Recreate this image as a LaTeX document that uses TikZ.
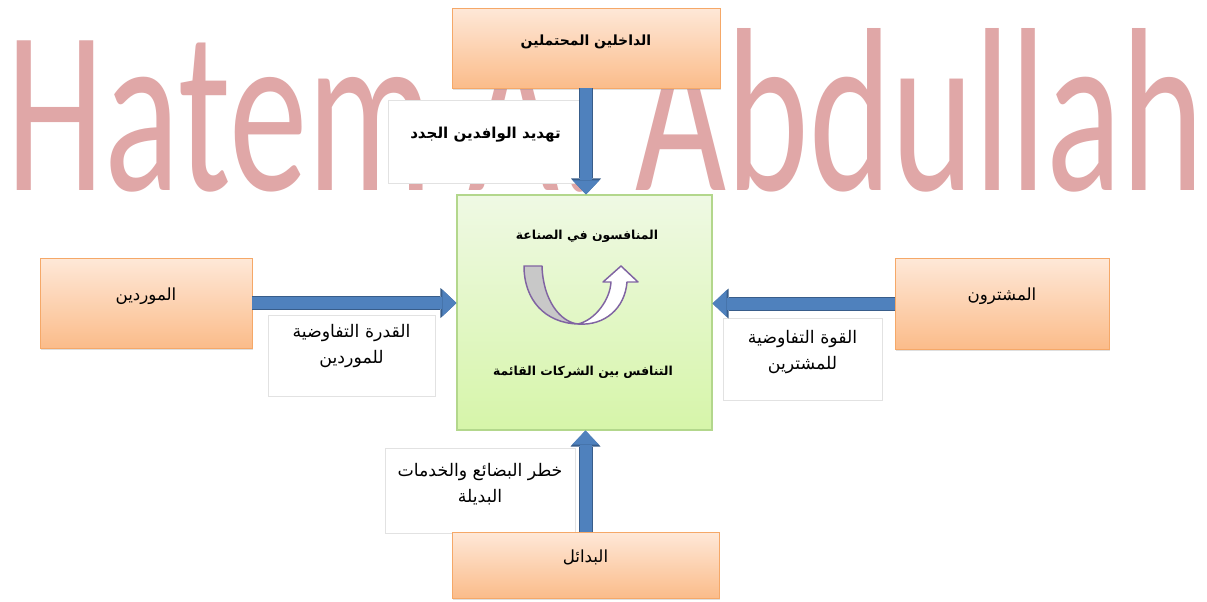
\documentclass[tikz,border=0pt]{standalone}
\usepackage{fontspec}
\setmainfont{Liberation Sans}
\newfontfamily\arabicfont[Script=Arabic]{DejaVu Sans}
\newfontfamily\markfont{Carlito}
\TeXXeTstate=1
\usetikzlibrary{arrows.meta,shadows}

\definecolor{markpink}{HTML}{E0A7A7}
\definecolor{orangetop}{HTML}{FEE8D8}
\definecolor{orangebot}{HTML}{FBBC8A}
\definecolor{orangeline}{HTML}{F5A868}
\definecolor{greentop}{HTML}{EFF9E4}
\definecolor{greenbot}{HTML}{D6F5A9}
\definecolor{greenline}{HTML}{B3D78C}
\definecolor{noteline}{HTML}{E2E2E2}
\definecolor{arrowblue}{HTML}{4F81BD}
\definecolor{arrowdark}{HTML}{385D8A}
\definecolor{turngray}{HTML}{C8C8C8}
\definecolor{turnline}{HTML}{8064A2}

\tikzset{
  watermark/.style={font=\markfont\fontsize{100}{100}\selectfont, text=markpink, inner sep=0pt, anchor=base,
    text depth=0pt, xscale=1.179, yscale=1.75},
  force/.style={rectangle, draw=orangeline, line width=0.6pt, top color=orangetop, bottom color=orangebot,
    drop shadow={opacity=0.25, shadow xshift=1pt, shadow yshift=-1.5pt},
    font=\arabicfont\fontsize{12.5}{14}\selectfont, text height=8pt, text depth=12pt},
  note/.style={rectangle, draw=noteline, line width=0.5pt, fill=white, align=center,
    font=\arabicfont\fontsize{13}{19.5}\selectfont, text height=27.5pt, text depth=15pt},
  rival/.style={rectangle, draw=greenline, line width=0.8pt, top color=greentop, bottom color=greenbot},
  rivtext/.style={font=\arabicfont\bfseries\fontsize{9.3}{12}\selectfont},
  uturn/.style={draw=turnline, line width=1.1pt, line join=round},
  push/.style={line width=9pt, draw=arrowblue, -{Triangle[length=10.5pt,width=20pt,line width=0pt]},
    preaction={draw=arrowdark, line width=10.5pt, -{Triangle[length=12pt,width=22.5pt,line width=0pt]}}}
}

\begin{document}
\begin{tikzpicture}[x=0.75pt, y=-0.75pt]
  % page
  \useasboundingbox[fill=white] (0,0) rectangle (1207,601);

  % watermark
  \node[watermark] (wm) at (605.5,190) {Hatem A. Abdullah};

  % notes beside the arrows
  \node[note, minimum width=146.25pt, minimum height=62.25pt, text height=8pt, text depth=12pt,
    font=\arabicfont\bfseries\fontsize{11.3}{13}\selectfont] (entnote) at (485.5,141.5)
    {\beginR تهديد الوافدين الجدد\endR};
  \node[note, minimum width=125.25pt, minimum height=60.75pt] (supnote) at (351.5,355.5)
    {\beginR القدرة التفاوضية\endR\\\beginR للموردين\endR};
  \node[note, minimum width=119.25pt, minimum height=61.5pt, text depth=12pt] (buynote) at (802.5,359)
    {\beginR القوة التفاوضية\endR\\\beginR للمشترين\endR};
  \node[note, minimum width=142.5pt, minimum height=63.75pt, text depth=10pt] (subnote) at (480,490.5)
    {\beginR خطر البضائع والخدمات\endR\\\beginR البديلة\endR};

  % the four forces
  \node[force, minimum width=201pt, minimum height=60pt, font=\arabicfont\bfseries\fontsize{10.5}{13}\selectfont] (ent) at (586,48)
    {\beginR الداخلين المحتملين\endR};
  \node[force, minimum width=159pt, minimum height=67.5pt] (sup) at (146,303) {\beginR الموردين\endR};
  \node[force, minimum width=160.5pt, minimum height=68.25pt] (buy) at (1002,303.5) {\beginR المشترون\endR};
  \node[force, minimum width=200.25pt, minimum height=49.5pt] (sub) at (585.5,565) {\beginR البدائل\endR};

  % rivalry
  \node[rival, minimum width=191.25pt, minimum height=176.25pt] (riv) at (584.5,312.5) {};
  \node[rivtext] (rivtop) at (587,236) {\beginR المنافسون في الصناعة\endR};
  \node[rivtext] (rivbot) at (583,372) {\beginR التنافس بين الشركات القائمة\endR};

  % u-turn arrow
  \filldraw[uturn, fill=turngray] (524,266) -- (542,266)
    .. controls (543,300) and (560,322) .. (578,324)
    .. controls (545,323) and (524,300) .. (524,266) -- cycle;
  \filldraw[uturn, fill=white] (578,324)
    .. controls (595,320) and (610,300) .. (611,282)
    -- (603,282) -- (621,266) -- (638,282) -- (627,282)
    .. controls (625,308) and (605,326) .. (578,324) -- cycle;

  % arrows
  \draw[push] (ent.south) -- (ent.south |- riv.north);
  \draw[push] (sup.east) -- (sup.east -| riv.west);
  \draw[push] (buy.west) -- (buy.west -| riv.east);
  \draw[push] (sub.north) -- (sub.north |- riv.south);
\end{tikzpicture}
\end{document}
